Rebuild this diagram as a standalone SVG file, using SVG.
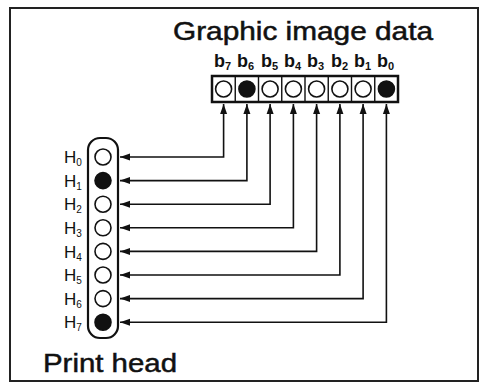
<svg xmlns="http://www.w3.org/2000/svg" width="482" height="384" viewBox="0 0 482 384">
<defs>
<style>
.t{font-family:"Liberation Sans",Arial,sans-serif;fill:#111}
.hd{stroke:#111;stroke-width:0.5}
.b{font-family:"Liberation Sans",Arial,sans-serif;font-weight:bold;fill:#111}
.dot{fill:#fff;stroke:#111;stroke-width:1.6}
.on{fill:#111;stroke:#111;stroke-width:1.6}
.cn{fill:none;stroke:#111;stroke-width:1.6}
</style>
<marker id="ah" viewBox="0 0 10 10" refX="10" refY="5" markerWidth="10" markerHeight="10" markerUnits="userSpaceOnUse" orient="auto-start-reverse">
<path d="M0,1.5 L10,5 L0,8.5 Z" fill="#111"/>
</marker>
</defs>
<rect x="10" y="8" width="468" height="373" fill="#fff" stroke="#222" stroke-width="2"/>
<g id="title"><text class="t hd" x="173" y="40" font-size="25" textLength="260" lengthAdjust="spacingAndGlyphs">Graphic image data</text></g>
<g id="register">
<rect x="212" y="76" width="186" height="26" fill="#fff" stroke="#111" stroke-width="2.5"/>
<path d="M235.25,76V102M258.5,76V102M281.75,76V102M305,76V102M328.25,76V102M351.5,76V102M374.75,76V102" stroke="#111" stroke-width="1.4"/>
<circle class="dot" cx="223.6" cy="89" r="8"/>
<circle class="on" cx="246.9" cy="89" r="8"/>
<circle class="dot" cx="270.1" cy="89" r="8"/>
<circle class="dot" cx="293.4" cy="89" r="8"/>
<circle class="dot" cx="316.6" cy="89" r="8"/>
<circle class="dot" cx="339.9" cy="89" r="8"/>
<circle class="dot" cx="363.1" cy="89" r="8"/>
<circle class="on" cx="386.4" cy="89" r="8"/>
<g class="b" font-size="18">
<text x="214" y="67">b<tspan font-size="11" dy="3">7</tspan></text>
<text x="237" y="67">b<tspan font-size="11" dy="3">6</tspan></text>
<text x="261" y="67">b<tspan font-size="11" dy="3">5</tspan></text>
<text x="284" y="67">b<tspan font-size="11" dy="3">4</tspan></text>
<text x="307" y="67">b<tspan font-size="11" dy="3">3</tspan></text>
<text x="331" y="67">b<tspan font-size="11" dy="3">2</tspan></text>
<text x="354" y="67">b<tspan font-size="11" dy="3">1</tspan></text>
<text x="377" y="67">b<tspan font-size="11" dy="3">0</tspan></text>
</g>
</g>
<g id="printhead">
<rect x="88" y="138" width="30" height="200" rx="12" fill="#fff" stroke="#111" stroke-width="2.2"/>
<circle class="dot" cx="103" cy="157" r="8"/>
<circle class="on" cx="103" cy="180.6" r="8"/>
<circle class="dot" cx="103" cy="204.2" r="8"/>
<circle class="dot" cx="103" cy="227.8" r="8"/>
<circle class="dot" cx="103" cy="251.4" r="8"/>
<circle class="dot" cx="103" cy="275" r="8"/>
<circle class="dot" cx="103" cy="298.6" r="8"/>
<circle class="on" cx="103" cy="322.2" r="8"/>
<g class="t" font-size="17">
<text x="64" y="163">H<tspan font-size="10" dy="3">0</tspan></text>
<text x="64" y="187">H<tspan font-size="10" dy="3">1</tspan></text>
<text x="64" y="210">H<tspan font-size="10" dy="3">2</tspan></text>
<text x="64" y="234">H<tspan font-size="10" dy="3">3</tspan></text>
<text x="64" y="258">H<tspan font-size="10" dy="3">4</tspan></text>
<text x="64" y="281">H<tspan font-size="10" dy="3">5</tspan></text>
<text x="64" y="305">H<tspan font-size="10" dy="3">6</tspan></text>
<text x="64" y="328">H<tspan font-size="10" dy="3">7</tspan></text>
</g>
<text class="t hd" x="43" y="372" font-size="26" textLength="134" lengthAdjust="spacingAndGlyphs">Print head</text>
</g>
<g id="connectors" class="cn">
<path d="M120,157H223.6V104" marker-start="url(#ah)" marker-end="url(#ah)"/>
<path d="M120,180.6H246.9V104" marker-start="url(#ah)" marker-end="url(#ah)"/>
<path d="M120,204.2H270.1V104" marker-start="url(#ah)" marker-end="url(#ah)"/>
<path d="M120,227.8H293.4V104" marker-start="url(#ah)" marker-end="url(#ah)"/>
<path d="M120,251.4H316.6V104" marker-start="url(#ah)" marker-end="url(#ah)"/>
<path d="M120,275H339.9V104" marker-start="url(#ah)" marker-end="url(#ah)"/>
<path d="M120,298.6H363.1V104" marker-start="url(#ah)" marker-end="url(#ah)"/>
<path d="M120,322.2H386.4V104" marker-start="url(#ah)" marker-end="url(#ah)"/>
</g>
</svg>
